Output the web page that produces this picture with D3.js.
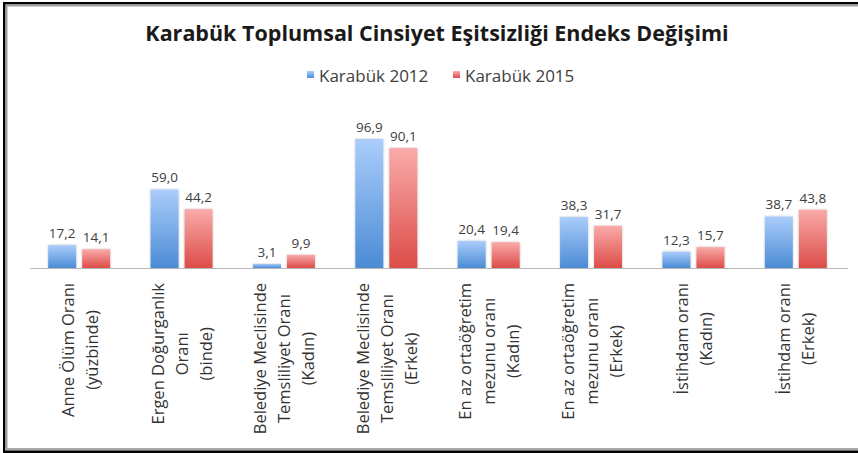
<!DOCTYPE html>
<html>
<head>
<meta charset="utf-8">
<title>Karabük Toplumsal Cinsiyet Eşitsizliği Endeks Değişimi</title>
<script src="https://d3js.org/d3.v7.min.js"></script>
<style>
  body { margin: 0; background: #fff; }
</style>
</head>
<body>
<div id="chart"></div>
<script>

const categories = [
  ["Anne Ölüm Oranı", "(yüzbinde)"],
  ["Ergen Doğurganlık", "Oranı", "(binde)"],
  ["Belediye Meclisinde", "Temsliliyet Oranı", "(Kadın)"],
  ["Belediye Meclisinde", "Temsliliyet Oranı", "(Erkek)"],
  ["En az ortaöğretim", "mezunu oranı", "(Kadın)"],
  ["En az ortaöğretim", "mezunu oranı", "(Erkek)"],
  ["İstihdam oranı", "(Kadın)"],
  ["İstihdam oranı", "(Erkek)"]
];
const seriesNames = ["Karabük 2012", "Karabük 2015"];
const values2012 = [17.2, 59.0, 3.1, 96.9, 20.4, 38.3, 12.3, 38.7];
const values2015 = [14.1, 44.2, 9.9, 90.1, 19.4, 31.7, 15.7, 43.8];

const width = 858, height = 453;
const font = "'Open Sans', sans-serif";
const baseY = 268;

const svg = d3.create("svg")
    .attr("width", width)
    .attr("height", height)
    .attr("viewBox", [0, 0, width, height])
    .style("font-family", font);

// frame
svg.append("rect").attr("x", 0).attr("y", 0).attr("width", width).attr("height", height).attr("fill", "#fff");
const frame = svg.append("g");
frame.append("rect").attr("x", 3).attr("y", 2).attr("width", width).attr("height", 2.5).attr("fill", "#000");
frame.append("rect").attr("x", 5).attr("y", 4.5).attr("width", width).attr("height", 2).attr("fill", "#a0a0a0");
frame.append("rect").attr("x", 3).attr("y", 2).attr("width", 2.5).attr("height", height).attr("fill", "#000");
frame.append("rect").attr("x", 5.5).attr("y", 4.5).attr("width", 2).attr("height", height - 8).attr("fill", "#a0a0a0");
frame.append("rect").attr("x", 5).attr("y", 448).attr("width", width).attr("height", 2.5).attr("fill", "#a8a8a8");
frame.append("rect").attr("x", 3).attr("y", 450.5).attr("width", width).attr("height", 3).attr("fill", "#000");

const defs = svg.append("defs");
const grads = [["g2012", "#abcdfb", "#4b8bd5"], ["g2015", "#f9aba9", "#dc4c48"]];
grads.forEach(([id, top, bottom]) => {
  const g = defs.append("linearGradient").attr("id", id).attr("x1", 0).attr("y1", 0).attr("x2", 0).attr("y2", 1);
  g.append("stop").attr("offset", "0%").attr("stop-color", top);
  g.append("stop").attr("offset", "100%").attr("stop-color", bottom);
});
const shadow = defs.append("filter").attr("id", "shadow").attr("x", "-20%").attr("y", "-10%").attr("width", "140%").attr("height", "120%");
shadow.append("feDropShadow").attr("dx", 0).attr("dy", 0).attr("stdDeviation", 1.2).attr("flood-color", "#000").attr("flood-opacity", 0.25);

// title
svg.append("text")
    .attr("x", 437).attr("y", 41)
    .attr("text-anchor", "middle")
    .attr("font-size", 21.5).attr("font-weight", "bold")
    .attr("fill", "#1a1a1a")
    .text("Karabük Toplumsal Cinsiyet Eşitsizliği Endeks Değişimi");

// legend
const legendX = [307, 453];
const legend = svg.append("g").selectAll("g").data(seriesNames).join("g")
    .attr("transform", (d, i) => `translate(${legendX[i]},71)`);
legend.append("rect").attr("width", 7).attr("height", 7).attr("fill", (d, i) => `url(#${grads[i][0]})`);
legend.append("text").attr("x", 12).attr("y", 10.5).attr("font-size", 17).attr("fill", "#404040").text(d => d);

// scales
const x = d3.scaleBand().domain(d3.range(categories.length)).range([28, 847]);
const x1 = d3.scaleBand().domain([0, 1])
    .range([x.bandwidth() / 2 - 31, x.bandwidth() / 2 + 31])
    .paddingInner(6 / 34);
const y = d3.scaleLinear().domain([0, 100]).range([baseY, baseY - 133.1]);
const fmt = v => d3.format(".1f")(v).replace(".", ",");

const rows = categories.map((c, i) => ({i, vals: [values2012[i], values2015[i]]}));

const group = svg.append("g").selectAll("g").data(rows).join("g")
    .attr("transform", d => `translate(${x(d.i)},0)`);

group.selectAll("rect").data(d => d.vals).join("rect")
    .attr("x", (v, j) => x1(j))
    .attr("width", x1.bandwidth())
    .attr("y", v => y(v))
    .attr("height", v => y(0) - y(v))
    .attr("fill", (v, j) => `url(#${grads[j][0]})`)
    .attr("filter", "url(#shadow)");

group.selectAll("text.val").data(d => d.vals).join("text")
    .attr("class", "val")
    .attr("x", (v, j) => x1(j) + x1.bandwidth() / 2)
    .attr("y", v => y(v) - 7)
    .attr("text-anchor", "middle")
    .attr("font-size", 13.5)
    .attr("fill", "#404040")
    .text(fmt);

// axis line
svg.append("line")
    .attr("x1", 30).attr("x2", 848)
    .attr("y1", baseY + 0.5).attr("y2", baseY + 0.5)
    .attr("stroke", "#b8b8b8").attr("stroke-width", 1.2);

document.getElementById("chart").appendChild(svg.node());

// category labels, rotated
const lineGap = 24;
const labels = svg.append("g").selectAll("g").data(categories).join("g");
labels.each(function(lines, i) {
  const g = d3.select(this);
  const cx = x(i) + x.bandwidth() / 2;
  const t = g.selectAll("text").data(lines).join("text")
      .attr("font-size", 16.5)
      .attr("fill", "#333")
      .attr("text-anchor", "middle")
      .attr("dominant-baseline", "central")
      .text(d => d);
  const maxLen = d3.max(t.nodes(), n => n.getComputedTextLength());
  const cy = 283 + maxLen / 2;
  t.attr("transform", (d, k) =>
    `translate(${cx + (k - (lines.length - 1) / 2) * lineGap},${cy}) rotate(-90)`);
});

</script>
</body>
</html>
